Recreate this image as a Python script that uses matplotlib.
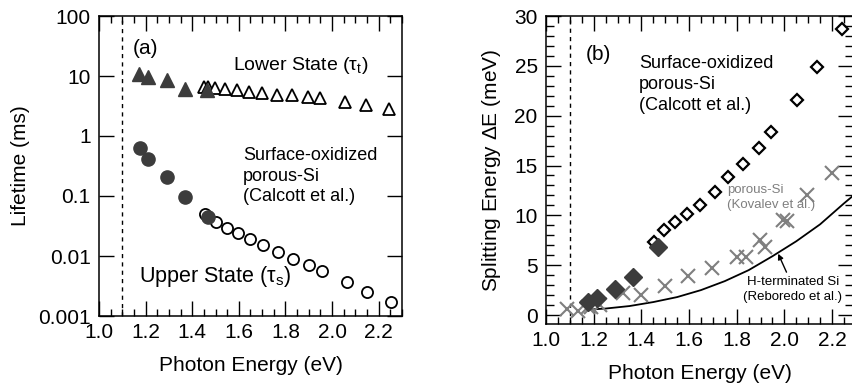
"""Lifetimes and singlet-triplet splitting vs photon energy, two panels (a) and (b)."""
import matplotlib
matplotlib.use("Agg")
import matplotlib.pyplot as plt
from matplotlib.ticker import MultipleLocator, FixedLocator, NullLocator

# ---- panel (a): lifetimes (ms) ----
lower_fill_e = [1.173, 1.212, 1.29, 1.37, 1.462]
lower_fill_t = [10.8, 9.7, 8.6, 6.0, 5.8]
lower_open_e = [1.451, 1.469, 1.498, 1.541, 1.591, 1.645, 1.698, 1.763, 1.827, 1.896, 1.948, 2.056, 2.146, 2.246]
lower_open_t = [6.5, 6.5, 6.2, 6.0, 5.8, 5.5, 5.15, 4.8, 4.8, 4.5, 4.25, 3.7, 3.3, 2.8]
upper_fill_e = [1.176, 1.209, 1.29, 1.369, 1.469]
upper_fill_t = [0.64, 0.42, 0.21, 0.096, 0.044]
upper_open_e = [1.455, 1.502, 1.548, 1.595, 1.648, 1.705, 1.77, 1.834, 1.903, 1.956, 2.063, 2.149, 2.253]
upper_open_t = [0.050, 0.0364, 0.0296, 0.0245, 0.0194, 0.0153, 0.0115, 0.0089, 0.0070, 0.0056, 0.0037, 0.0025, 0.0017]

# ---- panel (b): splitting energy (meV) ----
calcott_open_e = [1.453, 1.496, 1.541, 1.590, 1.646, 1.711, 1.762, 1.827, 1.893, 1.942, 2.051, 2.139, 2.242]
calcott_open_d = [7.3, 8.5, 9.3, 10.1, 11.0, 12.3, 13.8, 15.2, 16.8, 18.4, 21.6, 24.9, 28.7]
calcott_fill_e = [1.177, 1.212, 1.289, 1.366, 1.468]
calcott_fill_d = [1.3, 1.75, 2.65, 3.8, 6.85]
kovalev_e = [1.087, 1.136, 1.177, 1.19, 1.226, 1.324, 1.40, 1.499, 1.597, 1.695, 1.800, 1.841, 1.897, 1.918, 1.995, 2.013, 2.093, 2.198]
kovalev_d = [0.57, 0.43, 0.83, 0.77, 1.0, 2.2, 2.0, 2.9, 3.9, 4.75, 5.85, 5.85, 7.5, 6.85, 9.5, 9.45, 12.0, 14.2]
reboredo_e = [1.18, 1.25, 1.35, 1.45, 1.55, 1.65, 1.75, 1.85, 1.95, 2.05, 2.15, 2.25, 2.30]
reboredo_d = [0.55, 0.65, 0.9, 1.3, 1.8, 2.5, 3.4, 4.5, 5.9, 7.4, 9.1, 11.2, 12.2]

plt.rcParams["font.family"] = ["Liberation Sans", "DejaVu Sans"]
dark = "#3c3c3c"
grey = "#7f7f7f"

fig = plt.figure(figsize=(8.53, 3.88), dpi=100)
ax1 = fig.add_axes([99 / 853, 1 - 316 / 388, 303 / 853, 300 / 388])
ax2 = fig.add_axes([546 / 853, 1 - 324 / 388, 307 / 853, 308 / 388])


def style(ax):
    for s in ax.spines.values():
        s.set_linewidth(1.1)
    ax.tick_params(which="both", direction="in", top=True, right=True, width=1.0, labelsize=15)
    ax.tick_params(axis="x", which="major", length=10.5, pad=5)
    ax.tick_params(axis="x", which="minor", length=5)
    ax.tick_params(axis="y", which="major", length=11, pad=6)
    ax.tick_params(axis="y", which="minor", length=6)
    ax.xaxis.set_major_locator(MultipleLocator(0.2))
    ax.xaxis.set_minor_locator(MultipleLocator(0.05))
    ax.xaxis.set_major_formatter(matplotlib.ticker.FormatStrFormatter("%.1f"))
    ax.axvline(1.1, color="black", lw=1.0, ls=(0, (3, 3)))
    ax.set_xlabel("Photon Energy (eV)", fontsize=15, labelpad=10)


# panel (a)
style(ax1)
ax1.set_yscale("log")
ax1.set_xlim(1.0, 2.3)
ax1.set_ylim(0.001, 100)
ax1.yaxis.set_major_locator(FixedLocator([0.001, 0.01, 0.1, 1, 10, 100]))
ax1.yaxis.set_minor_locator(NullLocator())
ax1.set_yticklabels(["0.001", "0.01", "0.1", "1", "10", "100"])
ax1.plot(lower_open_e, lower_open_t, "^", ms=8, mfc="white", mec="black", mew=1.3, ls="none")
ax1.plot(lower_fill_e, lower_fill_t, "^", ms=10.5, color=dark, ls="none")
ax1.plot(upper_open_e, upper_open_t, "o", ms=8, mfc="white", mec="black", mew=1.3, ls="none")
ax1.plot(upper_fill_e, upper_fill_t, "o", ms=9.5, color=dark, ls="none")
ax1.set_ylabel("Lifetime (ms)", fontsize=15, labelpad=6)
ax1.text(1.146, 29, "(a)", fontsize=15, va="center")
ax1.text(1.575, 15.2, r"Lower State ($\mathregular{\tau_t}$)", fontsize=14, va="center")
ax1.text(1.618, 0.215, "Surface-oxidized\nporous-Si\n(Calcott et al.)", fontsize=13, va="center",
         linespacing=1.3)
ax1.text(1.172, 0.0045, r"Upper State ($\mathregular{\tau_s}$)", fontsize=15.5, va="center")

# panel (b)
style(ax2)
ax2.set_xlim(1.0, 2.288)
ax2.set_ylim(-0.9, 30)
ax2.yaxis.set_major_locator(MultipleLocator(5))
ax2.yaxis.set_minor_locator(MultipleLocator(1))
ax2.plot(reboredo_e, reboredo_d, color="black", lw=1.3)
ax2.plot(kovalev_e, kovalev_d, "x", ms=10, mew=1.5, color=grey, ls="none")
ax2.plot(calcott_open_e, calcott_open_d, "D", ms=6.5, mfc="white", mec="black", mew=1.6, ls="none")
ax2.plot(calcott_fill_e, calcott_fill_d, "D", ms=9, color=dark, ls="none")
ax2.set_ylabel(r"Splitting Energy $\mathregular{\Delta}$E (meV)", fontsize=15, labelpad=8)
ax2.text(1.168, 26.1, "(b)", fontsize=15, va="center")
ax2.text(1.39, 23.1, "Surface-oxidized\nporous-Si\n(Calcott et al.)", fontsize=13, va="center",
         linespacing=1.3)
ax2.text(1.758, 11.8, "porous-Si\n(Kovalev et al.)", fontsize=9.5, color=grey, va="center",
         linespacing=1.3)
ax2.text(2.036, 2.56, "H-terminated Si\n(Reboredo et al.)", fontsize=9.5, ha="center", va="center",
         linespacing=1.4)
ax2.annotate("", xy=(1.974, 6.15), xytext=(2.009, 4.3),
             arrowprops=dict(arrowstyle="-|>", color="black", lw=1.0, shrinkA=0, shrinkB=0,
                             mutation_scale=8))

fig.savefig("out.png", dpi=100)
